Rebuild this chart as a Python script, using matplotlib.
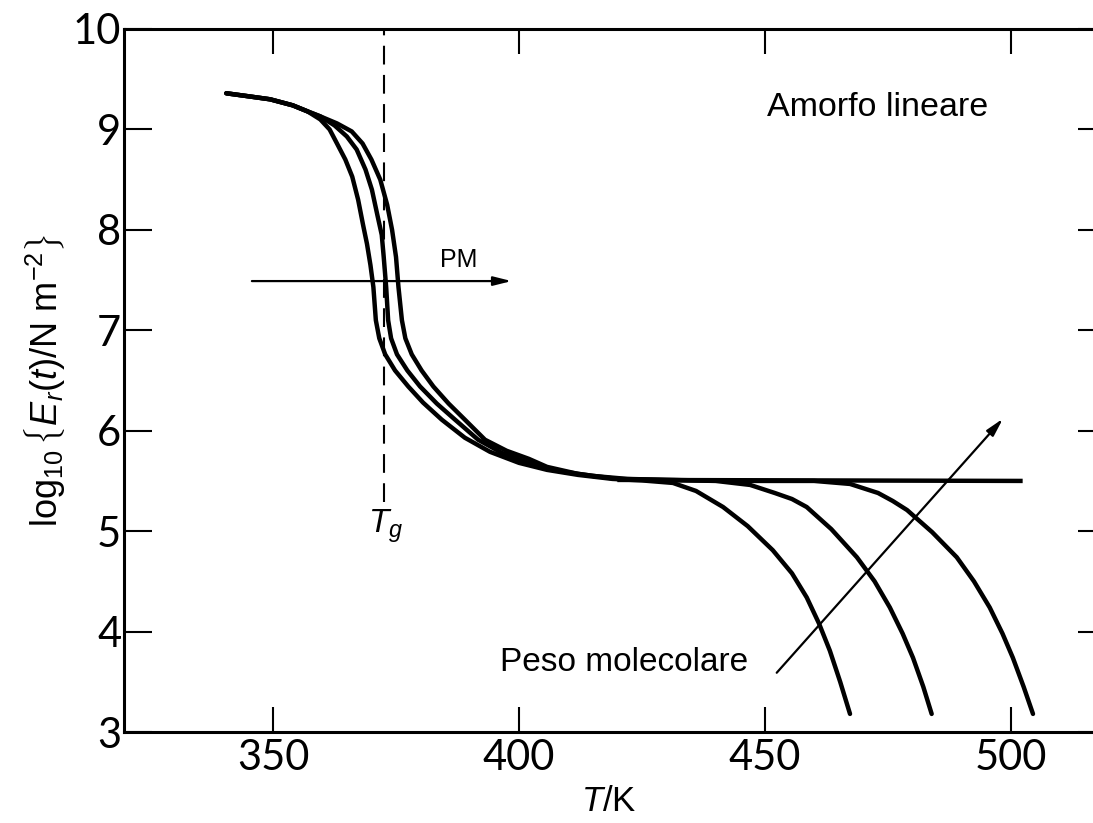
import matplotlib
matplotlib.use('Agg')
import matplotlib.pyplot as plt

# relaxation modulus curves (T in K, log10 E)
curve1_T = [340.5, 345, 349.4, 354, 357, 359.6, 361.5, 363.0, 364.7, 366.1,
            367.3, 368.3, 369.1, 369.8, 370.4, 370.9, 371.6, 372.8, 374.8, 377.5,
            380.5, 384.3, 389.0, 394.1, 400.0, 405.7, 412.0, 419.0, 425.0, 431.3,
            436.0, 441.5, 446.5, 451.6, 455.5, 458.5, 461.0, 463.2, 465.3, 467.3]
curve1_logE = [9.36, 9.33, 9.30, 9.24, 9.18, 9.10, 9.00, 8.86, 8.70, 8.53,
               8.30, 8.05, 7.86, 7.65, 7.43, 7.10, 6.92, 6.76, 6.60, 6.44,
               6.28, 6.11, 5.93, 5.79, 5.68, 5.61, 5.56, 5.52, 5.505, 5.48,
               5.40, 5.24, 5.05, 4.81, 4.58, 4.34, 4.08, 3.81, 3.50, 3.18]

curve2_T = [340.5, 345, 349.4, 354, 357, 359.6, 362.5, 365.0, 367.0, 368.8,
            370.1, 371.2, 372.1, 372.5, 373.0, 373.4, 374.0, 375.2, 377.3, 379.9,
            383.3, 387.0, 391.7, 396.5, 402.0, 408.0, 415.0, 422.0, 430.0, 440.0,
            447.0, 452.0, 455.5, 458.5, 463.5, 468.7, 472.3, 475.4, 478.0, 480.1,
            482.2, 483.9]
curve2_logE = [9.36, 9.33, 9.30, 9.24, 9.18, 9.13, 9.04, 8.93, 8.80, 8.60,
               8.40, 8.15, 7.95, 7.73, 7.43, 7.10, 6.92, 6.76, 6.60, 6.44,
               6.27, 6.11, 5.91, 5.78, 5.68, 5.60, 5.55, 5.52, 5.51, 5.50,
               5.46, 5.38, 5.32, 5.24, 5.02, 4.74, 4.50, 4.24, 3.98, 3.74,
               3.45, 3.18]

curve3_T = [340.5, 345, 349.4, 354, 357, 359.6, 363.0, 366.0, 368.2, 370.0,
            371.8, 373.2, 374.2, 375.0, 375.5, 376.2, 376.9, 378.2, 380.2, 382.6,
            385.7, 389.0, 393.1, 397.5, 402.0, 405.7, 412.0, 420.0, 430.0, 445.0,
            460.0, 467.3, 473.0, 476.0, 478.9, 484.0, 489.0, 492.5, 495.7, 498.3,
            500.4, 502.6, 504.5]
curve3_logE = [9.36, 9.33, 9.30, 9.24, 9.18, 9.13, 9.06, 8.98, 8.86, 8.70,
               8.50, 8.25, 8.00, 7.73, 7.43, 7.10, 6.92, 6.76, 6.60, 6.44,
               6.27, 6.11, 5.91, 5.80, 5.72, 5.64, 5.57, 5.52, 5.51, 5.50,
               5.50, 5.47, 5.38, 5.30, 5.21, 4.99, 4.74, 4.50, 4.24, 3.98,
               3.74, 3.45, 3.18]

# highest molecular weight: rubbery plateau goes on
flat_T = [420.0, 502.4]
flat_logE = [5.51, 5.50]

# glass transition marker
tg_T = 372.6
tg_logE = [5.29, 9.99]

# arrows
pm_T = [345.7, 398.5]
pm_logE = [7.49, 7.49]
mw_T = [452.4, 498.4]
mw_logE = [3.59, 6.12]

x_ticks = [350, 400, 450, 500]
y_ticks = [3, 4, 5, 6, 7, 8, 9, 10]

plt.rcParams['mathtext.fontset'] = 'custom'
plt.rcParams['mathtext.rm'] = 'Liberation Sans'
plt.rcParams['mathtext.it'] = 'Liberation Sans:italic'

fig = plt.figure(figsize=(10.93, 8.23), dpi=100)
ax = fig.add_axes([124 / 1093, 91 / 823, 969 / 1093, 703 / 823])

for T, E in [(curve1_T, curve1_logE), (curve2_T, curve2_logE), (curve3_T, curve3_logE)]:
    ax.plot(T, E, color='black', lw=3.2, solid_capstyle='round', solid_joinstyle='round')
ax.plot(flat_T, flat_logE, color='black', lw=3.2, solid_capstyle='butt')

ax.plot([tg_T, tg_T], tg_logE, color='black', lw=1.5, dashes=(9, 5))

arrow = dict(arrowstyle='-|>,head_length=0.6,head_width=0.15', mutation_scale=18,
             lw=1.6, color='black', shrinkA=0, shrinkB=0)
ax.annotate('', xy=(pm_T[1], pm_logE[1]), xytext=(pm_T[0], pm_logE[0]), arrowprops=arrow)
ax.annotate('', xy=(mw_T[1], mw_logE[1]), xytext=(mw_T[0], mw_logE[0]), arrowprops=arrow)

# labels inside the plot
ax.text(450.4, 9.13, 'Amorfo lineare', fontsize=24.5, family='Liberation Sans')
ax.text(383.9, 7.63, 'PM', fontsize=18, family='Liberation Sans')
ax.text(396.1, 3.61, 'Peso molecolare', fontsize=24, family='Liberation Sans')
ax.text(tg_T + 0.2, 5.24, r'$T_g$', fontsize=24, ha='center', va='top')

ax.set_xlim(319.7, 516.7)
ax.set_ylim(3, 10)
ax.set_xticks(x_ticks)
ax.set_yticks(y_ticks)

ax.spines['right'].set_visible(False)
for s in ['left', 'top', 'bottom']:
    ax.spines[s].set_linewidth(2.2)

ax.tick_params(direction='in', top=True, right=True, width=1.5, labelsize=30)
ax.tick_params(axis='x', length=18, pad=5)
ax.tick_params(axis='y', length=20, pad=2)
for t in ax.yaxis.get_major_ticks():
    t.tick2line.set_markersize(11)
for lab in ax.get_xticklabels() + ax.get_yticklabels():
    lab.set_family('Lato')

ax.set_xlabel(r'$T$/K', fontsize=25, family='Liberation Sans', labelpad=6)
ax.set_ylabel(r'$\log_{10}\left\{E_r(t)/\mathrm{N\ m^{-2}}\right\}$', fontsize=26, labelpad=4)

fig.savefig('out.png', dpi=100)
